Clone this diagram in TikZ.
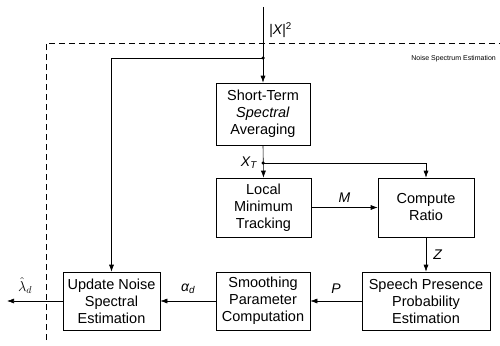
\documentclass[tikz,border=0pt]{standalone}
\usepackage{fontspec}
\setmainfont{Liberation Sans}
\usetikzlibrary{arrows.meta,positioning}
\tikzset{
  blk/.style  ={draw,semithick,align=center,font=\fontsize{14.5}{17}\selectfont,
                inner sep=2pt,minimum height=58pt},
  sig/.style  ={font=\fontsize{14}{16}\selectfont\itshape,inner sep=1pt},
  note/.style ={font=\fontsize{7}{8}\selectfont,inner sep=1pt},
  arr/.style  ={-{Latex[length=7pt,width=5pt]},semithick},
  jdot/.style ={circle,fill,inner sep=0pt,minimum size=3.5pt},
}

\begin{document}
\begin{tikzpicture}[x=1pt,y=-1pt]
\useasboundingbox (0,0) rectangle (500,345);

% estimator frame
\draw[semithick,dash pattern=on 6pt off 4pt] (46,340) -- (46,43) -- (500,43);
\node[note,anchor=east] (frame) at (497,59) {Noise Spectrum Estimation};

% blocks
\node[blk,minimum width=94pt,minimum height=62pt] (sta) at (263,114)
   {Short-Term\\\textit{Spectral}\\Averaging};
\node[blk,minimum width=95pt,minimum height=59pt] (lmt) at (263.5,207.5)
   {Local\\Minimum\\Tracking};
\node[blk,minimum width=96pt,minimum height=59pt] (cr) at (426,207.5)
   {Compute\\Ratio};
\node[blk,minimum width=128pt] (spe) at (426,301)
   {Speech Presence\\Probability\\Estimation};
\node[blk,minimum width=94pt] (spc) at (263,301)
   {Smoothing\\Parameter\\Computation};
\node[blk,minimum width=97pt] (une) at (111.5,301)
   {Update Noise\\Spectral\\Estimation};

% input and branch points
\coordinate (in) at (263,7);
\coordinate (out) at (7,301);
\node[jdot] (j1) at (263,58) {};
\node[jdot] (j2) at (263,163) {};

% 1. input spectrum
\draw[arr] (in) -- (sta.north);
\node[sig,anchor=west] (lx) at (268,30) {|\textit{X}|\textsuperscript{\upshape 2}};
\draw[arr] (j1.center) -| (une.north);

% 2. averaged spectrum
\draw[arr] (sta.south) -- (lmt.north);
\node[sig,anchor=east] (lxt) at (258,163) {\textit{X}\textsubscript{\textit{T}}};
\draw[arr] (j2.center) -| (cr.north);

% 3. ratio and presence
\draw[arr] (lmt.east) -- node[sig,above=4pt] (lm) {M} (cr.west);
\draw[arr] (cr.south) -- node[sig,right=6pt] (lz) {Z} (spe.north);
\draw[arr] (spe.west) -- node[sig,above=6pt] (lp) {P} (spc.east);
\draw[arr] (spc.west) -- node[sig,above=6pt] (la) {α\textsubscript{\textit{d}}} (une.east);

% 4. output
\draw[arr] (une.west) -- (out);
\node[sig,anchor=south] (ll) at (25,295) {$\hat{\lambda}_d$};

\end{tikzpicture}
\end{document}
